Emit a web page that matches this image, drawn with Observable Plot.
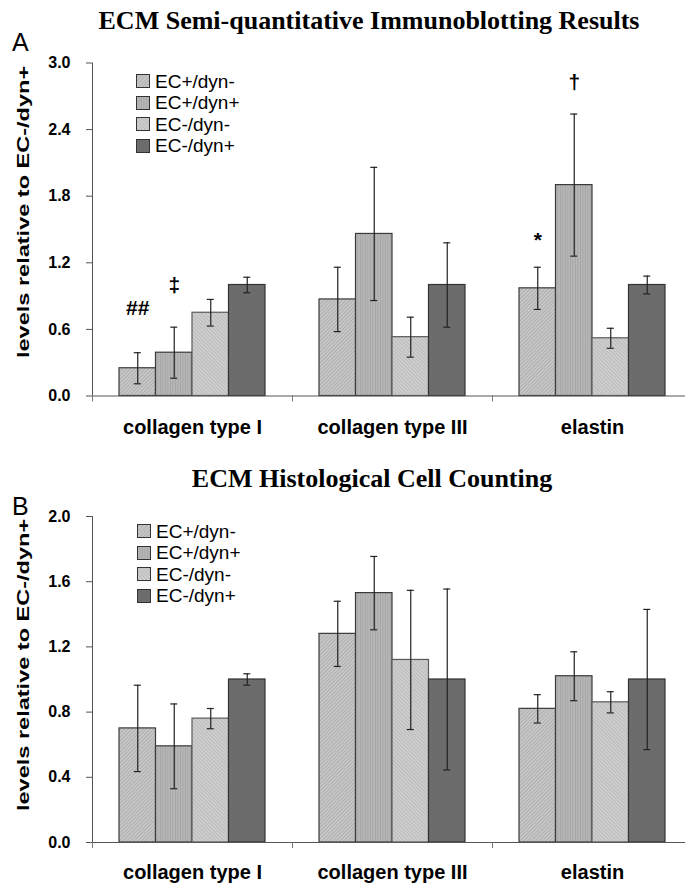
<!DOCTYPE html>
<html>
<head>
<meta charset="utf-8">
<script src="https://cdn.jsdelivr.net/npm/d3@7"></script>
<script src="https://cdn.jsdelivr.net/npm/@observablehq/plot@0.6"></script>
<style>
  html, body { margin: 0; padding: 0; background: #fff; overflow: hidden; width: 685px; height: 884px; }
  #root { position: relative; width: 685px; height: 884px; overflow: hidden; }
  .abs { position: absolute; white-space: nowrap; line-height: 1; }
  .title { font-family: "Liberation Serif", "Times New Roman", serif; font-weight: bold; font-size: 26px; transform: translateX(-50%); color: #000; }
  .letter { font-family: "Liberation Sans", Arial, sans-serif; font-size: 25px; color: #000; }
  .ylab { font-family: "Liberation Sans", Arial, sans-serif; font-weight: bold; font-size: 16px; line-height: 18px; transform-origin: left top; transform: rotate(-90deg) scaleX(1.47); color: #000; }
  .legrow { position: absolute; display: flex; align-items: center; font-family: "Liberation Sans", Arial, sans-serif; font-size: 19px; line-height: 1; color: #000; white-space: nowrap; }
  .legrow svg { margin-right: 5px; display: block; }
</style>
</head>
<body>
<svg width="0" height="0" style="position:absolute">
  <defs>
    <pattern id="pat0" patternUnits="userSpaceOnUse" width="2.6" height="2.6" patternTransform="rotate(45)">
      <rect width="2.6" height="2.6" fill="#c8c8c8"></rect>
      <rect width="0.9" height="2.6" fill="#acacac"></rect>
    </pattern>
    <pattern id="pat1" patternUnits="userSpaceOnUse" width="2.5" height="2.5">
      <rect width="2.5" height="2.5" fill="#b6b6b6"></rect>
      <rect width="0.8" height="2.5" fill="#a4a4a4"></rect>
    </pattern>
    <pattern id="pat2" patternUnits="userSpaceOnUse" width="2.6" height="2.6" patternTransform="rotate(-45)">
      <rect width="2.6" height="2.6" fill="#cfcfcf"></rect>
      <rect width="0.9" height="2.6" fill="#b8b8b8"></rect>
    </pattern>
    <pattern id="pat3" patternUnits="userSpaceOnUse" width="4" height="4">
      <rect width="4" height="4" fill="#6c6c6c"></rect>
    </pattern>
  </defs>
</svg>
<div id="root"></div>
<script>
// ---------- data ----------
const categories = ["collagen type I", "collagen type III", "elastin"];
const groups = ["EC+/dyn-", "EC+/dyn+", "EC-/dyn-", "EC-/dyn+"];

// Panel A: ECM Semi-quantitative Immunoblotting Results
const immunoTitle = "ECM Semi-quantitative Immunoblotting Results";
const immunoEcPlusDynMinus = [0.25, 0.87, 0.97];
const immunoEcPlusDynPlus = [0.39, 1.46, 1.90];
const immunoEcMinusDynMinus = [0.75, 0.53, 0.52];
const immunoEcMinusDynPlus = [1.00, 1.00, 1.00];
const immunoErrEcPlusDynMinus = [0.14, 0.29, 0.19];
const immunoErrEcPlusDynPlus = [0.23, 0.60, 0.64];
const immunoErrEcMinusDynMinus = [0.12, 0.18, 0.09];
const immunoErrEcMinusDynPlus = [0.07, 0.38, 0.08];
const immunoTicks = [0, 0.6, 1.2, 1.8, 2.4, 3.0];
const immunoMarkText = ["##", "\u2021", "*", "\u2020"];
const immunoMarkCategory = ["collagen type I", "collagen type I", "elastin", "elastin"];
const immunoMarkGroup = ["EC+/dyn-", "EC+/dyn+", "EC+/dyn-", "EC+/dyn+"];
const immunoMarkLevel = [0.79, 1.0, 1.40, 2.83];

// Panel B: ECM Histological Cell Counting
const countTitle = "ECM Histological Cell Counting";
const countEcPlusDynMinus = [0.70, 1.28, 0.82];
const countEcPlusDynPlus = [0.59, 1.53, 1.02];
const countEcMinusDynMinus = [0.76, 1.12, 0.86];
const countEcMinusDynPlus = [1.00, 1.00, 1.00];
const countErrEcPlusDynMinus = [0.265, 0.20, 0.087];
const countErrEcPlusDynPlus = [0.26, 0.225, 0.15];
const countErrEcMinusDynMinus = [0.062, 0.427, 0.065];
const countErrEcMinusDynPlus = [0.035, 0.555, 0.43];
const countTicks = [0, 0.4, 0.8, 1.2, 1.6, 2.0];

const yLabel = "levels relative to EC-/dyn+";

// ---------- helpers ----------
function buildRows(valueLists, errLists) {
  const rows = [];
  groups.forEach((g, gi) => {
    categories.forEach((c, ci) => {
      rows.push({category: c, group: g, value: valueLists[gi][ci], err: errLists[gi][ci]});
    });
  });
  return rows;
}

const patterns = ["url(#pat0)", "url(#pat1)", "url(#pat2)", "url(#pat3)"];
const strokes = ["#3a3a3a", "#3a3a3a", "#5a5a5a", "#333333"];

const WIDTH = 692, ML = 92, MR = 0;
const BAND = (WIDTH - ML - MR) / categories.length;
const BARW = 36.5;
const PAD = (BAND - groups.length * BARW) / 2;
const CAPW = 7;

function makePanel({rows, notes, ticks, yMax, height, marginTop, marginBottom, labelPad}) {
  const plotH = height - marginTop - marginBottom;
  const marks = [];
  groups.forEach((g, gi) => {
    const sub = rows.filter(d => d.group === g);
    const left = PAD + gi * BARW;
    const right = BAND - left - BARW;
    const center = -BAND / 2 + left + BARW / 2;
    marks.push(Plot.barY(sub, {
      x: "category", y: "value", fill: patterns[gi], stroke: strokes[gi], strokeWidth: 1.2,
      insetLeft: left, insetRight: right
    }));
    marks.push(Plot.ruleX(sub, {
      x: "category", y1: d => d.value - d.err, y2: d => d.value + d.err,
      dx: center, stroke: "#222", strokeWidth: 1.2
    }));
    const capL = left + (BARW - CAPW) / 2;
    const capR = BAND - capL - CAPW;
    marks.push(Plot.tickY(sub, {
      x: "category", y: d => d.value + d.err, insetLeft: capL, insetRight: capR, stroke: "#222", strokeWidth: 1.2
    }));
    marks.push(Plot.tickY(sub, {
      x: "category", y: d => d.value - d.err, insetLeft: capL, insetRight: capR, stroke: "#222", strokeWidth: 1.2
    }));
    if (notes) {
      marks.push(Plot.text(notes.filter(n => n.group === g), {
        x: "category", y: "level", text: "text", dx: center,
        fontSize: 21, fontWeight: "bold", fill: "#000", lineAnchor: "middle"
      }));
    }
  });
  // axes
  marks.push(Plot.ruleY([0], {stroke: "#555", strokeWidth: 1}));
  marks.push(Plot.frame({anchor: "left", stroke: "#555", strokeWidth: 1}));
  marks.push(Plot.ruleX(categories, {x: d => d, dx: -BAND / 2, insetTop: plotH, insetBottom: -6, stroke: "#777", strokeWidth: 1}));
  marks.push(Plot.axisY({
    ticks, tickSize: 6, tickPadding: 16, tickFormat: d3.format(".1f"), label: null,
    fontSize: 16, fontWeight: "bold", stroke: "#555", fill: "#000"
  }));
  marks.push(Plot.axisX({
    tickSize: 0, tickPadding: labelPad, label: null, fontSize: 20, fontWeight: "bold", fill: "#000"
  }));
  return Plot.plot({
    width: WIDTH, height, marginLeft: ML, marginRight: MR, marginTop, marginBottom,
    x: {type: "band", domain: categories, padding: 0, round: false},
    y: {domain: [0, yMax]},
    style: {fontFamily: "Liberation Sans, Arial, sans-serif", color: "#000", background: "transparent", maxWidth: "none", overflow: "visible"},
    marks
  });
}

const root = document.getElementById("root");

function place(el, top) {
  el.style.position = "absolute";
  el.style.left = "0px";
  el.style.top = top + "px";
  root.appendChild(el);
}

const rowsA = buildRows(
  [immunoEcPlusDynMinus, immunoEcPlusDynPlus, immunoEcMinusDynMinus, immunoEcMinusDynPlus],
  [immunoErrEcPlusDynMinus, immunoErrEcPlusDynPlus, immunoErrEcMinusDynMinus, immunoErrEcMinusDynPlus]
);
const notesA = immunoMarkText.map((t, i) => ({text: t, category: immunoMarkCategory[i], group: immunoMarkGroup[i], level: immunoMarkLevel[i]}));
const rowsB = buildRows(
  [countEcPlusDynMinus, countEcPlusDynPlus, countEcMinusDynMinus, countEcMinusDynPlus],
  [countErrEcPlusDynMinus, countErrEcPlusDynPlus, countErrEcMinusDynMinus, countErrEcMinusDynPlus]
);

place(makePanel({rows: rowsA, notes: notesA, ticks: immunoTicks, yMax: 3, height: 395, marginTop: 12.5, marginBottom: 49.5, labelPad: 24}), 50);
place(makePanel({rows: rowsB, notes: null, ticks: countTicks, yMax: 2, height: 384, marginTop: 16, marginBottom: 42, labelPad: 22}), 500);

function addText(cls, text, left, top) {
  const d = document.createElement("div");
  d.className = "abs " + cls;
  d.textContent = text;
  d.style.left = left + "px";
  d.style.top = top + "px";
  root.appendChild(d);
  return d;
}

addText("title", immunoTitle, 369, 8);
addText("letter", "A", 12, 30);
addText("ylab", yLabel, 15, 358);

addText("title", countTitle, 372, 466);
addText("letter", "B", 12, 494);
addText("ylab", yLabel, 15, 811);

function addLegend(left, firstCenter, step) {
  groups.forEach((g, gi) => {
    const row = document.createElement("div");
    row.className = "legrow";
    row.style.left = left + "px";
    row.style.top = (firstCenter + gi * step - 10) + "px";
    row.style.height = "20px";
    const sw = document.createElementNS("http://www.w3.org/2000/svg", "svg");
    sw.setAttribute("width", "14");
    sw.setAttribute("height", "14");
    const r = document.createElementNS("http://www.w3.org/2000/svg", "rect");
    r.setAttribute("x", "0.5"); r.setAttribute("y", "0.5");
    r.setAttribute("width", "13"); r.setAttribute("height", "13");
    r.setAttribute("fill", patterns[gi]);
    r.setAttribute("stroke", "#333");
    r.setAttribute("stroke-width", "1");
    sw.appendChild(r);
    row.appendChild(sw);
    const t = document.createElement("span");
    t.textContent = g;
    row.appendChild(t);
    root.appendChild(row);
  });
}
addLegend(136, 81, 21.5);
addLegend(137, 531, 21.6);
</script>
</body>
</html>
